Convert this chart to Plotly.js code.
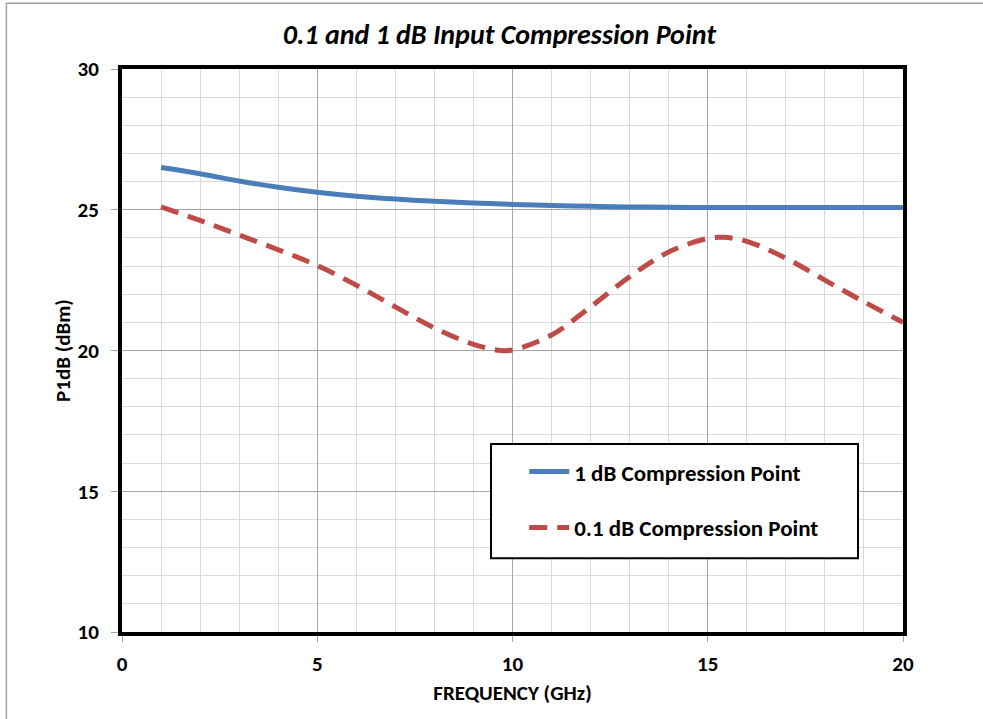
<!DOCTYPE html>
<html>
<head>
<meta charset="utf-8">
<script src="https://cdn.plot.ly/plotly-3.0.1.min.js"></script>
<style>html,body{margin:0;padding:0;background:#fff;}#chart{width:983px;height:719px;}</style>
</head>
<body>
<div id="chart"></div>
<script>
const freq = [1, 2, 3, 4, 5, 6, 7, 8, 9, 10, 11, 12, 13, 14, 15, 16, 17, 18, 19, 20];
const p1dB = [26.5, 26.28, 26.02, 25.8, 25.62, 25.48, 25.38, 25.3, 25.24, 25.19, 25.15, 25.12, 25.1, 25.09, 25.08, 25.08, 25.08, 25.08, 25.08, 25.08];
const freq01 = [1, 2, 3, 4, 5, 6, 7, 8, 9, 9.7, 10, 11, 12, 13, 14, 15, 15.4, 16, 17, 18, 19, 20];
const p01dB = [25.1, 24.62, 24.1, 23.58, 23.02, 22.32, 21.55, 20.8, 20.22, 20.0, 20.02, 20.55, 21.55, 22.62, 23.5, 23.98, 24.02, 23.88, 23.28, 22.5, 21.73, 21.0];
const xTicks = [0, 5, 10, 15, 20];
const yTicks = [10, 15, 20, 25, 30];
const seriesNames = ['1 dB Compression Point', '0.1 dB Compression Point'];
const titleText = '0.1 and 1 dB Input Compression Point';
const xTitle = 'FREQUENCY (GHz)';
const yTitle = 'P1dB (dBm)';

const FONT = 'Carlito, Lato, "Liberation Sans", sans-serif';

const traces = [
  {x: freq, y: p1dB, name: seriesNames[0], mode: 'lines', legendgroup: 'a',
   line: {color: '#4a7ebb', width: 5, shape: 'spline', smoothing: 1}},
  {x: freq01, y: p01dB, name: seriesNames[1], mode: 'lines', legendgroup: 'b',
   line: {color: '#be4b48', width: 5, dash: '18px,10px', shape: 'spline', smoothing: 1}}
];

const layout = {
  width: 983, height: 719,
  margin: {l: 122, r: 80, t: 69, b: 87},
  paper_bgcolor: '#fff', plot_bgcolor: '#fff',
  font: {family: FONT, size: 22, color: '#000', weight: 'bold'},
  title: {text: '<b><i>' + titleText + '</i></b>', x: 0.508, xref: 'container', xanchor: 'center',
          y: 0.953, yref: 'container', yanchor: 'middle', font: {size: 28, family: FONT}},
  xaxis: {range: [0, 20], tickvals: xTicks, ticktext: xTicks.map(String),
          showline: true, linecolor: '#000', linewidth: 4, mirror: true,
          ticks: 'outside', ticklen: 6, tickcolor: '#a0a0a0', tickwidth: 1,
          showgrid: true, gridcolor: '#a6a6a6', gridwidth: 1, zeroline: false,
          minor: {dtick: 1, showgrid: true, gridcolor: '#d9d9d9', gridwidth: 1, ticks: ''},
          ticklabelstandoff: 4,
          tickfont: {size: 21, family: FONT, weight: 'bold'},
          title: {text: xTitle, font: {size: 21, family: FONT, weight: 'bold'}, standoff: 10}},
  yaxis: {range: [10, 30], tickvals: yTicks, ticktext: yTicks.map(String),
          showline: true, linecolor: '#000', linewidth: 4, mirror: true,
          ticks: 'outside', ticklen: 7, tickcolor: '#a0a0a0', tickwidth: 1,
          showgrid: true, gridcolor: '#a6a6a6', gridwidth: 1, zeroline: false,
          minor: {dtick: 1, showgrid: true, gridcolor: '#d9d9d9', gridwidth: 1, ticks: ''},
          ticklabelstandoff: 8,
          tickfont: {size: 21, family: FONT, weight: 'bold'},
          title: {text: yTitle, font: {size: 21, family: FONT, weight: 'bold'}, standoff: 2}},
  showlegend: true,
  legend: {x: 0.515, y: 0.323, xanchor: 'left', yanchor: 'top', bgcolor: 'rgba(0,0,0,0)',
           borderwidth: 0, tracegroupgap: 23, itemwidth: 40,
           font: {size: 23, family: FONT, weight: 'bold', color: '#000'}},
  shapes: [
    {type: 'rect', xref: 'paper', yref: 'paper', x0: 0.4725, x1: 0.9424, y0: 0.131, y1: 0.334,
     line: {color: '#000', width: 2}, fillcolor: '#fff', layer: 'above'},
    {type: 'path', xref: 'paper', yref: 'paper',
     path: 'M -0.148,-0.16 L -0.148,1.117 L 1.11,1.117', line: {color: '#a0a0a0', width: 1.5}}
  ]
};

Plotly.newPlot('chart', traces, layout, {displayModeBar: false, staticPlot: true});
</script>
</body>
</html>
